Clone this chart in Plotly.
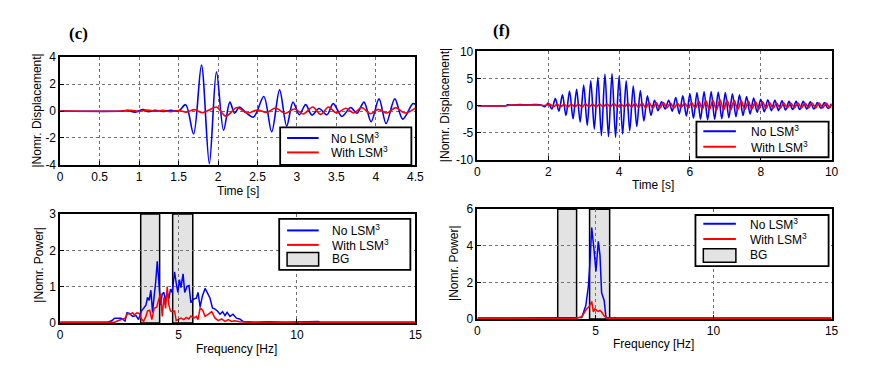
import plotly.graph_objects as go

# ---------------- DATA ----------------
# (c) time domain
c_blue_t = [0, 0.8, 0.85, 0.95, 1.05, 1.12, 1.2, 1.3, 1.4, 1.5, 1.59, 1.69, 1.79, 1.89, 1.98, 2.07, 2.15, 2.21, 2.27, 2.35, 2.45,
            2.58, 2.68, 2.78, 2.87, 2.95, 3.03, 3.11, 3.19, 3.28, 3.38, 3.46, 3.57, 3.68, 3.76, 3.85, 3.94, 4.04, 4.13, 4.24,
            4.34, 4.47, 4.5]
c_blue_v = [0, 0, 0.05, -0.08, 0.1, -0.05, 0.06, -0.03, 0.05, 0.0, 0.47, -1.7, 3.4, -3.9, 2.9, -1.43, 0.66, -0.17, 0.3, -0.1,
            -0.45, 1.07, -1.55, 1.57, -1.12, 0.66, -0.28, 0.47, -0.3, 0.19, -0.28, 0.55, -0.4, 0.26, -0.17, 0.66, -0.8, 0.9,
            -0.93, 0.9, -0.6, 0.55, 0.5]
c_red_t = [0, 0.8, 0.9, 1.0, 1.1, 1.2, 1.3, 1.4, 1.5, 1.6, 1.7, 1.8, 1.88, 1.98, 2.1, 2.24, 2.37, 2.5, 2.62, 2.73, 2.85, 2.97,
           3.08, 3.2, 3.3, 3.4, 3.5, 3.62, 3.72, 3.82, 3.93, 4.03, 4.14, 4.25, 4.37, 4.5]
c_red_v = [0, 0, 0.06, -0.04, 0.08, -0.02, 0.06, -0.05, 0.04, -0.08, 0.1, -0.12, 0.05, 0.3, -0.38, 0.26, -0.15, 0.08, -0.1,
           0.22, -0.18, 0.15, -0.22, 0.3, -0.25, 0.3, -0.15, 0.2, -0.15, 0.26, -0.2, 0.12, -0.15, 0.25, -0.15, 0.22]

# (f) time domain
f_blue_t = [0, 0.8, 0.85, 1.0, 1.2, 1.4, 1.6, 1.8, 1.9,
            2.0, 2.1, 2.2, 2.3, 2.4, 2.5, 2.6, 2.7, 2.8, 2.9, 3.0, 3.1, 3.2, 3.3, 3.4, 3.5, 3.6, 3.7, 3.8, 3.9,
            4.0, 4.1, 4.2, 4.3, 4.4, 4.5, 4.6, 4.7, 4.8, 4.9, 5.0, 5.1, 5.2, 5.3, 5.4, 5.5, 5.6, 5.7, 5.8, 5.9,
            6.0, 6.1, 6.2, 6.3, 6.4, 6.5, 6.6, 6.7, 6.8, 6.9, 7.0, 7.1, 7.2, 7.3, 7.4, 7.5, 7.6, 7.7, 7.8, 7.9,
            8.0, 8.1, 8.2, 8.3, 8.4, 8.5, 8.6, 8.7, 8.8, 8.9, 9.0, 9.1, 9.2, 9.3, 9.4, 9.5, 9.6, 9.7, 9.8, 9.9, 10.0]
f_blue_v = [0, 0, 0.15, 0.1, 0.2, 0.15, 0.2, 0.15, -0.2,
            0.5, -0.6, 1.3, -1.0, 2.0, -1.8, 2.7, -2.4, 3.0, -3.0, 3.8, -3.6, 4.6, -4.3, 5.2, -5.5, 5.8, -5.7, 5.9, -5.8,
            5.4, -5.2, 4.6, -4.6, 3.6, -3.8, 2.8, -2.8, 1.8, -1.8, 1.0, -0.9, 0.7, -0.6, 1.0, -1.0, 1.5, -1.5, 1.8, -1.9,
            2.2, -2.3, 2.4, -2.5, 2.6, -2.6, 2.6, -2.5, 2.5, -2.4, 2.4, -2.2, 2.2, -2.0, 2.0, -1.8, 1.7, -1.5, 1.4, -1.2,
            1.2, -1.1, 1.1, -0.9, 1.0, -0.9, 0.9, -0.8, 0.8, -0.7, 0.8, -0.7, 0.8, -0.6, 0.7, -0.6, 0.6, -0.5, 0.6, -0.5, 0.4]
f_red_t = [0, 0.8, 0.9, 1.1, 1.3, 1.5, 1.7, 1.9,
           2.05, 2.15, 2.25, 2.35, 2.45, 2.55, 2.65, 2.75, 2.85, 2.95, 3.05, 3.15, 3.25, 3.35, 3.45, 3.55, 3.65, 3.75,
           3.85, 3.95, 4.05, 4.15, 4.25, 4.35, 4.45, 4.55, 4.65, 4.75, 4.85, 4.95, 5.05, 5.15, 5.25, 5.35, 5.45, 5.55,
           5.65, 5.75, 5.85, 5.95, 6.05, 6.15, 6.25, 6.35, 6.45, 6.55, 6.65, 6.75, 6.85, 6.95, 7.05, 7.15, 7.25, 7.35,
           7.45, 7.55, 7.65, 7.75, 7.85, 7.95, 8.05, 8.15, 8.25, 8.35, 8.45, 8.55, 8.65, 8.75, 8.85, 8.95, 9.05, 9.15,
           9.25, 9.35, 9.45, 9.55, 9.65, 9.75, 9.85, 9.95, 10.0]
f_red_v = [0, 0, 0.1, 0.12, 0.1, 0.12, 0.1, 0.05,
           0.25, -0.2, 0.3, -0.2, 0.25, -0.25, 0.3, -0.2, 0.3, -0.25, 0.35, -0.2, 0.3, -0.25, 0.3, -0.2, 0.35, -0.2,
           0.4, -0.25, 0.3, -0.2, 0.4, -0.25, 0.45, -0.3, 0.5, -0.4, 0.6, -0.5, 0.6, -0.5, 0.6, -0.4, 0.5, -0.4,
           0.4, -0.3, 0.5, -0.4, 0.6, -0.5, 0.8, -0.6, 0.9, -0.7, 1.0, -0.8, 1.1, -0.8, 1.0, -0.8, 1.0, -0.7,
           0.9, -0.7, 0.8, -0.6, 0.7, -0.6, 0.7, -0.5, 0.6, -0.5, 0.5, -0.5, 0.5, -0.4, 0.5, -0.4, 0.5, -0.4,
           0.5, -0.4, 0.5, -0.4, 0.5, -0.4, 0.5, -0.4, 0.3]

# (c) spectrum
c_spec_blue_f = [0, 0.8, 1.2, 2.0, 2.15, 2.23, 2.3, 2.57, 2.74, 2.82, 2.92, 3.06, 3.2, 3.31, 3.41, 3.52, 3.62, 3.69, 3.76,
                 3.83, 3.9, 3.97, 4.03, 4.1, 4.17, 4.24, 4.31, 4.38, 4.45, 4.52, 4.59, 4.66, 4.73, 4.83, 4.9, 4.97, 5.04,
                 5.1, 5.19, 5.26, 5.36, 5.44, 5.52, 5.64, 5.75, 5.82, 5.91, 6.01, 6.12, 6.22, 6.33, 6.43, 6.54, 6.64,
                 6.75, 6.86, 6.96, 7.05, 7.17, 7.3, 7.44, 7.58, 7.72, 7.93, 8.2, 8.8, 9.5, 10.9, 11.0, 15]
c_spec_blue_v = [0.02, 0.03, 0.02, 0.02, 0.05, 0.09, 0.13, 0.13, 0.05, 0.28, 0.26, 0.18, 0.2, 0.09, 0.31, 0.4, 0.49, 0.7,
                 0.62, 0.9, 0.29, 0.75, 1.1, 1.7, 0.93, 0.49, 0.8, 0.84, 0.59, 0.84, 0.66, 0.93, 0.84, 1.41, 1.1, 0.84,
                 1.19, 0.97, 1.35, 0.84, 1.01, 1.03, 0.56, 0.66, 0.68, 0.84, 0.44, 0.75, 0.95, 0.8, 0.68, 0.41, 0.38,
                 0.33, 0.24, 0.31, 0.2, 0.29, 0.18, 0.24, 0.13, 0.11, 0.04, 0.03, 0.02, 0.03, 0.02, 0.04, 0.02, 0.02]
c_spec_red_f = [0, 1.0, 2.3, 2.43, 2.74, 2.85, 2.96, 3.06, 3.13, 3.24, 3.34, 3.41, 3.52, 3.62, 3.69, 3.78, 3.87, 3.97,
                4.08, 4.15, 4.24, 4.31, 4.38, 4.45, 4.52, 4.59, 4.66, 4.73, 4.83, 4.9, 5.01, 5.1, 5.22, 5.33, 5.43, 5.52,
                5.64, 5.75, 5.82, 5.91, 6.02, 6.12, 6.26, 6.4, 6.54, 6.68, 6.82, 6.96, 7.1, 7.24, 7.37, 7.58, 8.0, 15]
c_spec_red_v = [0.02, 0.02, 0.02, 0.06, 0.13, 0.26, 0.24, 0.28, 0.22, 0.28, 0.26, 0.13, 0.04, 0.18, 0.33, 0.35, 0.09,
                0.4, 0.44, 0.62, 0.8, 0.18, 0.7, 0.4, 1.0, 0.49, 0.33, 0.31, 0.33, 0.06, 0.09, 0.13, 0.09, 0.15, 0.11,
                0.19, 0.13, 0.18, 0.09, 0.41, 0.35, 0.18, 0.24, 0.31, 0.13, 0.06, 0.11, 0.04, 0.09, 0.04, 0.06, 0.03,
                0.02, 0.02]

# (f) spectrum
f_spec_blue_f = [0, 4.08, 4.42, 4.59, 4.7, 4.77, 4.84, 4.93, 5.02, 5.12, 5.19, 5.26, 5.37, 5.44, 5.54, 5.75, 5.82, 5.9, 15]
f_spec_blue_v = [0.05, 0.06, 0.09, 0.74, 1.8, 3.2, 5.0, 3.9, 2.6, 4.25, 3.5, 1.44, 1.0, 0.12, 0.05, 0.05, 0.08, 0.05, 0.05]
f_spec_red_f = [0, 4.15, 4.42, 4.63, 4.74, 4.84, 4.91, 4.98, 5.05, 5.12, 5.19, 5.26, 5.36, 5.47, 5.54, 15]
f_spec_red_v = [0.04, 0.04, 0.12, 0.56, 0.7, 0.96, 0.39, 0.56, 0.47, 0.42, 0.47, 0.38, 0.18, 0.05, 0.04, 0.04]

# BG frequency bands [Hz]
bg_bands = [(3.4, 4.2), (4.75, 5.6)]

# tick labels
c_time_ticks = [0, 0.5, 1, 1.5, 2, 2.5, 3, 3.5, 4, 4.5]
c_time_labels = ["0", "0.5", "1", "1.5", "2", "2.5", "3", "3.5", "4", "4.5"]
c_disp_ticks = [-4, -2, 0, 2, 4]
c_disp_labels = ["-4", "-2", "0", "2", "4"]
f_time_ticks = [0, 2, 4, 6, 8, 10]
f_disp_ticks = [-10, -5, 0, 5, 10]
f_disp_labels = ["-10", "-5", "0", "5", "10"]
freq_ticks = [0, 5, 10, 15]
c_pow_ticks = [0, 1, 2, 3]
f_pow_ticks = [0, 2, 4, 6]

# ---------------- FIGURE ----------------
W, H = 881, 379
BLUE, RED = "#0000ff", "#ff0000"
FONT = "Liberation Sans, Arial, sans-serif"


def px(x):
    return x / W


def py(y):
    return 1 - y / H


fig = go.Figure()
fig.add_trace(go.Scatter(x=c_blue_t, y=c_blue_v, mode="lines", line=dict(color=BLUE, width=1.6, shape="spline", smoothing=0.9),
                         xaxis="x", yaxis="y"))
fig.add_trace(go.Scatter(x=c_red_t, y=c_red_v, mode="lines", line=dict(color=RED, width=1.6, shape="spline", smoothing=0.9),
                         xaxis="x", yaxis="y"))
fig.add_trace(go.Scatter(x=f_blue_t, y=f_blue_v, mode="lines", line=dict(color=BLUE, width=1.6, shape="spline", smoothing=0.9),
                         xaxis="x2", yaxis="y2"))
fig.add_trace(go.Scatter(x=f_red_t, y=f_red_v, mode="lines", line=dict(color=RED, width=1.6, shape="spline", smoothing=0.9),
                         xaxis="x2", yaxis="y2"))
fig.add_trace(go.Scatter(x=c_spec_blue_f, y=c_spec_blue_v, mode="lines", line=dict(color=BLUE, width=1.5),
                         xaxis="x3", yaxis="y3"))
fig.add_trace(go.Scatter(x=c_spec_red_f, y=c_spec_red_v, mode="lines", line=dict(color=RED, width=1.5),
                         xaxis="x3", yaxis="y3"))
fig.add_trace(go.Scatter(x=f_spec_blue_f, y=f_spec_blue_v, mode="lines", line=dict(color=BLUE, width=1.5),
                         xaxis="x4", yaxis="y4"))
fig.add_trace(go.Scatter(x=f_spec_red_f, y=f_spec_red_v, mode="lines", line=dict(color=RED, width=1.5),
                         xaxis="x4", yaxis="y4"))

axis_common = dict(showline=True, mirror=True, linecolor="black", linewidth=1.5, ticks="inside", ticklen=4,
                   tickcolor="black", showgrid=True, gridcolor="#707070", griddash="dot", gridwidth=1,
                   zeroline=False, tickfont=dict(family=FONT, size=12, color="black"))

c_x = [px(58), px(418)]
f_x = [px(481), px(840)]

fig.update_layout(
    width=W, height=H, margin=dict(l=0, r=0, t=0, b=0),
    paper_bgcolor="white", plot_bgcolor="white", showlegend=False,
    font=dict(family=FONT, size=12, color="black"),
    xaxis=dict(axis_common, domain=c_x, range=[0, 4.5], tickvals=c_time_ticks, ticktext=c_time_labels, anchor="y"),
    yaxis=dict(axis_common, domain=[py(164), py(52)], range=[-4, 4], tickvals=c_disp_ticks, ticktext=c_disp_labels, anchor="x"),
    xaxis2=dict(axis_common, domain=f_x, range=[0, 10], tickvals=f_time_ticks, anchor="y2"),
    yaxis2=dict(axis_common, domain=[py(159), py(46)], range=[-10, 10], tickvals=f_disp_ticks, ticktext=f_disp_labels, anchor="x2"),
    xaxis3=dict(axis_common, domain=c_x, range=[0, 15], tickvals=freq_ticks, anchor="y3"),
    yaxis3=dict(axis_common, domain=[py(328), py(215)], range=[0, 3], tickvals=c_pow_ticks, anchor="x3"),
    xaxis4=dict(axis_common, domain=f_x, range=[0, 15], tickvals=freq_ticks, anchor="y4"),
    yaxis4=dict(axis_common, domain=[py(324), py(210)], range=[0, 6], tickvals=f_pow_ticks, anchor="x4"),
)

shapes = []
# BG bands
for xa, ya in [("x3", "y3"), ("x4", "y4")]:
    for lo, hi in bg_bands:
        shapes.append(dict(type="rect", xref=xa, yref=ya + " domain", x0=lo, x1=hi, y0=0, y1=1,
                           fillcolor="#e3e3e3", line=dict(color="black", width=1.5), layer="below"))

annotations = []


def legend(box, rows, line_x, text_x):
    x0, x1, y0, y1 = box
    shapes.append(dict(type="rect", xref="paper", yref="paper", x0=px(x0), x1=px(x1), y0=py(y1), y1=py(y0),
                       fillcolor="white", line=dict(color="black", width=1.8), layer="above"))
    labels = ["No LSM<sup>3</sup>", "With LSM<sup>3</sup>", "BG"]
    colors = [BLUE, RED, None]
    for i, ry in enumerate(rows):
        if colors[i] is not None:
            shapes.append(dict(type="line", xref="paper", yref="paper", x0=px(line_x[0]), x1=px(line_x[1]),
                               y0=py(ry), y1=py(ry), line=dict(color=colors[i], width=2), layer="above"))
        else:
            shapes.append(dict(type="rect", xref="paper", yref="paper", x0=px(line_x[0]), x1=px(line_x[1]),
                               y0=py(ry + 7), y1=py(ry - 7), fillcolor="#e3e3e3",
                               line=dict(color="black", width=1.5), layer="above"))
        annotations.append(dict(xref="paper", yref="paper", x=px(text_x), y=py(ry), text=labels[i],
                                showarrow=False, xanchor="left", yanchor="middle", height=12, valign="middle",
                                font=dict(family=FONT, size=12, color="black")))


legend((281, 414, 125, 164), [136, 151], (288, 320), 331)
legend((703, 837, 119, 156), [129, 145], (710, 743), 756)
legend((280, 413, 220, 273), [232, 247, 262], (288, 320), 332)
legend((702, 837, 216, 269), [225, 241, 258], (710, 743), 755)


def text(x, y, s, angle=0, size=12, fam=FONT, bold=False):
    annotations.append(dict(xref="paper", yref="paper", x=px(x), y=py(y), text=("<b>%s</b>" % s) if bold else s,
                            showarrow=False, textangle=angle, xanchor="center", yanchor="middle",
                            font=dict(family=fam, size=size, color="black")))


text(34, 108, "|Nomr. Displacement|", angle=-90)
text(448, 102, "|Nomr. Displacement|", angle=-90)
text(37, 267, "|Nomr. Power|", angle=-90)
text(457, 266, "|Nomr. Power|", angle=-90)
text(238, 191, "Time [s]")
text(659, 185, "Time [s]")
text(237, 355, "Frequency [Hz]")
text(659, 350, "Frequency [Hz]")
text(77, 27, "(c)", size=17, fam="Liberation Serif, Times New Roman, serif", bold=True)
text(505, 24, "(f)", size=17, fam="Liberation Serif, Times New Roman, serif", bold=True)

fig.update_layout(shapes=shapes, annotations=annotations)
fig.write_html("out.html", config={"displayModeBar": False},
               post_script="document.body.style.margin='0';document.body.style.padding='0';")
